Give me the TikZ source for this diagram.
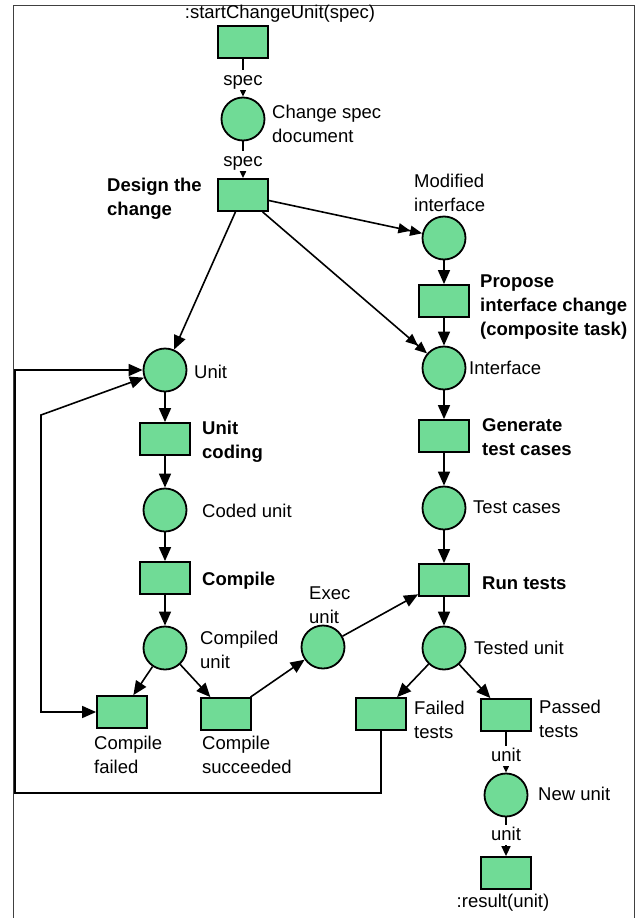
\documentclass[tikz,border=0pt]{standalone}
\usepackage{fontspec}
\setmainfont{Liberation Sans}
\usetikzlibrary{arrows.meta}
\definecolor{pgreen}{RGB}{112,219,150}
\begin{document}
\begin{tikzpicture}[x=1pt,y=-1pt,
 place/.style={circle,draw,fill=pgreen,line width=1.8pt,minimum size=43pt,inner sep=0pt},
 trans/.style={rectangle,draw,fill=pgreen,line width=1.8pt,minimum width=50pt,minimum height=32pt,inner sep=0pt},
 lbl/.style={font=\fontsize{18.5}{24}\selectfont,align=left,inner sep=0pt,anchor=west},
 blbl/.style={lbl,font=\fontsize{18.5}{24}\selectfont\bfseries},
 arr/.style={line width=1.6pt,-{Triangle[length=14pt,width=12pt]}},
 sarr/.style={line width=1.6pt,-{Triangle[length=10pt,width=9pt]}},
 darr/.style={line width=1.6pt,-{Triangle[length=12pt,width=10pt]Triangle[length=12pt,width=10pt]}},
 barr/.style={line width=1.6pt,{Triangle[length=14pt,width=12pt]}-{Triangle[length=14pt,width=12pt]}},
 elbl/.style={font=\fontsize{18.5}{24}\selectfont,fill=white,inner sep=0.5pt,text height=15pt,text depth=4pt,anchor=base}
]
\useasboundingbox (0,0) rectangle (638,918);
\fill[white] (0,0) rectangle (638,918);
% frame
\draw[line width=1pt, black!75] (13,918) -- (13,5) -- (634,5) -- (634,918);

% right column
\node[trans] (start) at (243,42) {};
\node[place] (cs) at (243,119) {};
\node[trans] (design) at (243,195) {};
\node[place] (modif) at (444,238) {};
\node[trans] (propose) at (444,301) {};
\node[place] (iface) at (444,368) {};
\node[trans] (gen) at (444,436) {};
\node[place] (tcases) at (444,508) {};
\node[trans] (run) at (444,580) {};
\node[place] (tested) at (444,648) {};
\node[trans] (failt) at (381,714) {};
\node[trans] (passt) at (506,715) {};
\node[place] (newu) at (506,795) {};
\node[trans] (result) at (506,873) {};
% left column
\node[place] (unit) at (165,370) {};
\node[trans] (ucod) at (165,439) {};
\node[place] (coded) at (165,510) {};
\node[trans] (compile) at (165,578) {};
\node[place] (compiled) at (165,648) {};
\node[trans] (cfail) at (122,712) {};
\node[trans] (csucc) at (226,714) {};
\node[place] (exec) at (323,647) {};

% labels
\node[lbl,anchor=center] (tstart) at (280,14) {:startChangeUnit(spec)};
\node[lbl] (tcs) at (272,124) {Change spec\\document};
\node[blbl] (tdesign) at (107,199) {Design the\\change};
\node[lbl] (tmodif) at (414,193) {Modified\\interface};
\node[blbl] (tpropose) at (480,307) {Propose\\interface change\\(composite task)};
\node[lbl] (tiface) at (469,368) {Interface};
\node[blbl] (tgen) at (482,437) {Generate\\test cases};
\node[lbl] (ttc) at (473,507) {Test cases};
\node[blbl] (trun) at (482,583) {Run tests};
\node[lbl] (ttested) at (474,648) {Tested unit};
\node[lbl] (tfailt) at (414,720) {Failed\\tests};
\node[lbl] (tpasst) at (539,719) {Passed\\tests};
\node[lbl] (tnewu) at (538,794) {New unit};
\node[lbl,anchor=center] (tresult) at (503,903) {:result(unit)};
\node[lbl] (tunit) at (194,372) {Unit};
\node[blbl] (tucod) at (202,442) {Unit\\coding};
\node[lbl] (tcoded) at (202,511) {Coded unit};
\node[blbl] (tcompile) at (202,581) {Compile};
\node[lbl] (tcompiled) at (200,650) {Compiled\\unit};
\node[lbl] (tcfail) at (94,755) {Compile\\failed};
\node[lbl] (tcsucc) at (202,755) {Compile\\succeeded};
\node[lbl] (texec) at (309,605) {Exec\\unit};

% edges
\draw[sarr] (start) -- (cs);
\node[elbl] (spec1) at (243,85) {spec};
\draw[sarr] (cs) -- (design);
\node[elbl] (spec2) at (243,166) {spec};
\draw[arr] (design) -- (unit);
\draw[darr] (design) -- (iface);
\draw[darr] (design) -- (modif);
\draw[arr] (modif) -- (propose);
\draw[arr] (propose) -- (iface);
\draw[arr] (iface) -- (gen);
\draw[arr] (gen) -- (tcases);
\draw[arr] (tcases) -- (run);
\draw[arr] (run) -- (tested);
\draw[arr] (tested) -- (failt);
\draw[arr] (tested) -- (passt);
\draw[sarr] (passt) -- (newu);
\node[elbl] (unit1) at (506,761) {unit};
\draw[sarr] (newu) -- (result);
\node[elbl] (unit2) at (506,840) {unit};
\draw[arr] (unit) -- (ucod);
\draw[arr] (ucod) -- (coded);
\draw[arr] (coded) -- (compile);
\draw[arr] (compile) -- (compiled);
\draw[arr] (compiled) -- (cfail);
\draw[arr] (compiled) -- (csucc);
\draw[arr] (csucc) -- (exec);
\draw[arr] (exec) -- (run);
% feedback loops
\coordinate (fbA) at (15,793);
\coordinate (fbB) at (15,370);
\draw[arr] (failt.south) |- (fbA) -- (fbB) -- (unit.west);
\coordinate (cfA) at (41,415);
\draw[barr] (unit) -- (cfA) |- (cfail.west);
\end{tikzpicture}
\end{document}
